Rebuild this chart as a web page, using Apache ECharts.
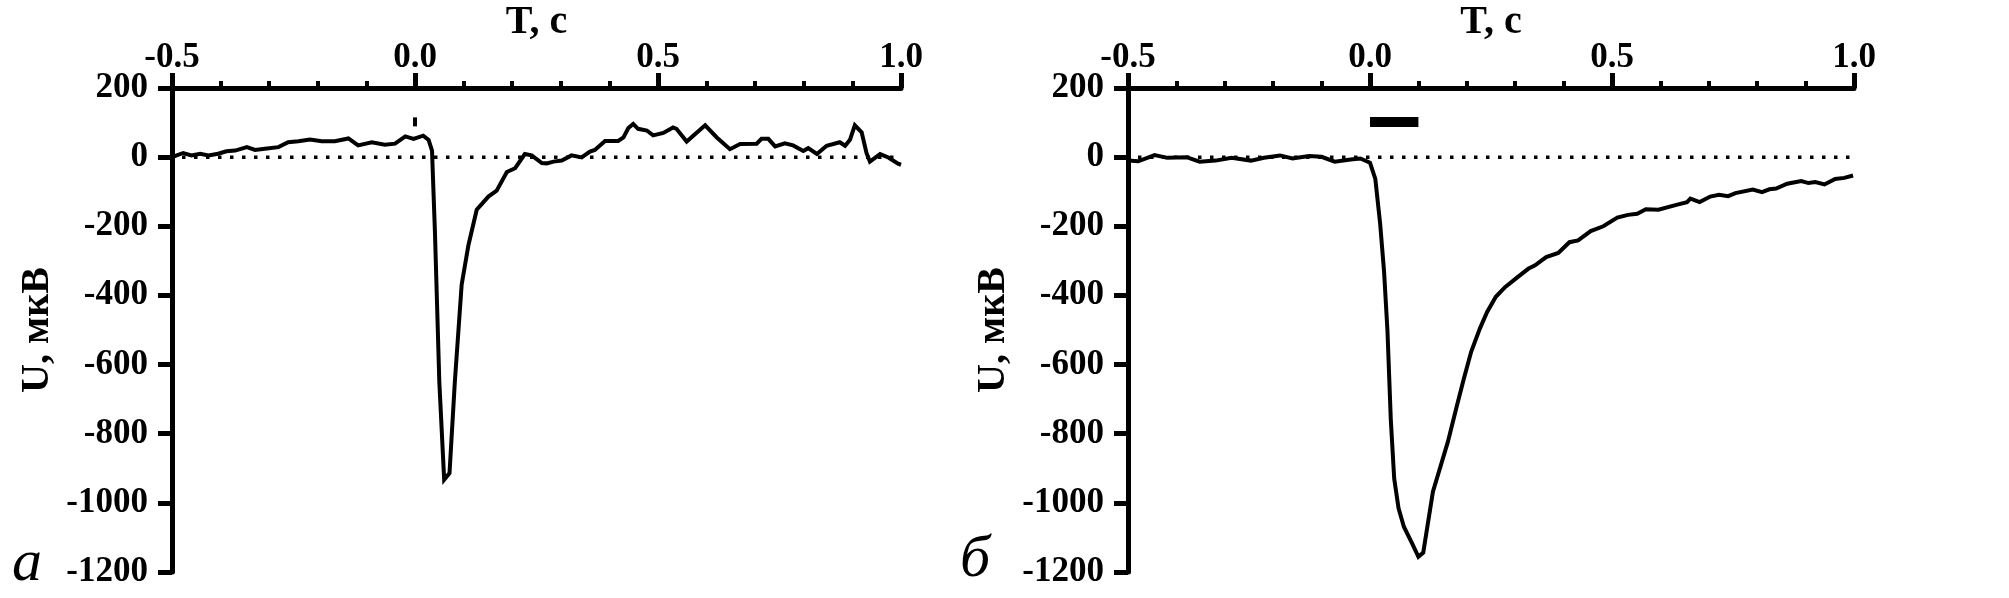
<!DOCTYPE html>
<html><head><meta charset="utf-8">
<script src="https://cdn.jsdelivr.net/npm/echarts@6/dist/echarts.min.js"></script>
<style>html,body{margin:0;padding:0;background:#fff}#c{width:2009px;height:598px}</style>
</head><body><div id="c"></div>
<script>
// Panel а: time (s) and voltage (µV)
const timeA = [-0.5,-0.477,-0.460,-0.442,-0.425,-0.405,-0.388,-0.370,-0.346,-0.329,-0.309,-0.281,-0.261,-0.240,-0.216,-0.192,-0.165,-0.137,-0.117,-0.089,-0.062,-0.041,-0.020,-0.003,0.017,0.028,0.035,0.041,0.050,0.060,0.071,0.082,0.096,0.110,0.127,0.151,0.168,0.189,0.206,0.226,0.240,0.261,0.271,0.285,0.302,0.322,0.343,0.360,0.370,0.391,0.418,0.429,0.439,0.449,0.459,0.477,0.490,0.511,0.531,0.538,0.559,0.597,0.621,0.648,0.669,0.703,0.713,0.727,0.741,0.761,0.778,0.799,0.809,0.827,0.847,0.874,0.885,0.895,0.905,0.919,0.929,0.936,0.957,0.974,0.994,1.0];
const voltA = [0,12,5,10,5,10,17,19,29,21,24,29,43,46,51,46,46,54,34,43,36,39,60,53,62,50,19,-215,-649,-933,-914,-649,-369,-254,-152,-114,-97,-43,-32,9,5,-17,-18,-13,-10,5,-1,16,21,47,47,57,84,96,82,77,63,70,86,82,45,92,57,23,38,39,53,53,31,40,34,18,26,9,33,43,33,50,92,72,12,-13,9,-1,-19,-22];
// Panel б
const timeB = [-0.5,-0.479,-0.445,-0.419,-0.379,-0.352,-0.319,-0.286,-0.246,-0.219,-0.186,-0.160,-0.126,-0.100,-0.073,-0.040,-0.020,0.000,0.011,0.021,0.029,0.036,0.043,0.050,0.059,0.070,0.087,0.100,0.110,0.130,0.161,0.179,0.194,0.209,0.227,0.242,0.260,0.279,0.305,0.327,0.341,0.364,0.389,0.412,0.430,0.456,0.482,0.511,0.533,0.552,0.570,0.596,0.633,0.655,0.662,0.681,0.703,0.721,0.740,0.755,0.791,0.810,0.825,0.839,0.862,0.891,0.906,0.920,0.939,0.961,0.980,0.998];
const voltB = [-10,-12,6,-2,0,-13,-10,-2,-10,-2,5,-4,3,1,-13,-7,-4,-16,-63,-193,-330,-500,-760,-930,-1016,-1069,-1117,-1156,-1144,-968,-823,-722,-640,-563,-496,-448,-404,-376,-347,-323,-313,-289,-277,-246,-241,-214,-200,-175,-167,-164,-151,-152,-138,-130,-120,-130,-114,-109,-113,-104,-94,-101,-93,-91,-77,-69,-75,-72,-79,-63,-60,-53];
// stimulus markers
const stimAx = [0, 0], stimAy = [89, 115];
const stimBx = [0, 0.1], stimBy = [102, 102];
// axes
const xMin = -0.5, xMax = 1.0, xStep = 0.5;
const yMin = -1200, yMax = 200, yStep = 200;
const xName = 'T, c';
const yName = 'U, мкВ';
const panelLabels = ['а', 'б'];

const FONT = 'Liberation Serif';
const pairs = (xs, ys) => xs.map((x, i) => [x, ys[i]]);
const grids = [
  {left: 172, top: 88, width: 729, height: 484, outerBoundsMode: 'none', containLabel: false},
  {left: 1128, top: 88, width: 726, height: 484, outerBoundsMode: 'none', containLabel: false}
];
function xAx(gi) {
  return {
    gridIndex: gi, type: 'value', position: 'top', min: xMin, max: xMax, interval: xStep,
    axisLine: {onZero: false, lineStyle: {color: '#000', width: 5}},
    axisTick: {length: 15, lineStyle: {color: '#000', width: 5}},
    minorTick: {show: true, splitNumber: 5, length: 7, lineStyle: {color: '#000', width: 4}},
    splitLine: {show: false}, minorSplitLine: {show: false},
    axisLabel: {margin: 13, color: '#000', fontFamily: FONT, fontWeight: 'bold', fontSize: 35,
      formatter: v => v.toFixed(1)},
    name: xName, nameLocation: 'middle', nameGap: 45, nameMoveOverlap: false,
    nameTextStyle: {color: '#000', fontFamily: FONT, fontWeight: 'bold', fontSize: 40}
  };
}
function yAx(gi) {
  return {
    gridIndex: gi, type: 'value', min: yMin, max: yMax, interval: yStep,
    axisLine: {show: true, onZero: false, lineStyle: {color: '#000', width: 5}},
    axisTick: {show: true, length: 14, lineStyle: {color: '#000', width: 5}},
    splitLine: {show: false},
    axisLabel: {margin: 24, color: '#000', fontFamily: FONT, fontWeight: 'bold', fontSize: 35,
      formatter: v => String(v)},
    name: yName, nameLocation: 'middle', nameGap: 114, nameMoveOverlap: false,
    nameTextStyle: {color: '#000', fontFamily: FONT, fontWeight: 'bold', fontSize: 40}
  };
}
function zeroLine(gi) {
  return {type: 'line', xAxisIndex: gi, yAxisIndex: gi, data: [[xMin, 0], [xMax, 0]],
    symbol: 'none', silent: true,
    lineStyle: {color: '#000', width: 3.5, type: [3.5, 8.5], dashOffset: -10}};
}
function trace(gi, data) {
  return {type: 'line', xAxisIndex: gi, yAxisIndex: gi, data: data, symbol: 'none', silent: true,
    lineStyle: {color: '#000', width: 4, join: 'miter'}};
}
function marker(gi, data, w) {
  return {type: 'line', xAxisIndex: gi, yAxisIndex: gi, data: data, symbol: 'none', silent: true,
    lineStyle: {color: '#000', width: w, cap: 'butt'}};
}
const chart = echarts.init(document.getElementById('c'), null, {renderer: 'canvas'});
chart.setOption({
  animation: false,
  backgroundColor: '#fff',
  grid: grids,
  xAxis: [xAx(0), xAx(1)],
  yAxis: [yAx(0), yAx(1)],
  series: [
    zeroLine(0), zeroLine(1),
    trace(0, pairs(timeA, voltA)),
    trace(1, pairs(timeB, voltB)),
    marker(0, pairs(stimAx, stimAy), 4),
    marker(1, pairs(stimBx, stimBy), 10)
  ],
  graphic: [
    {type: 'text', left: 12, top: 534, style: {text: panelLabels[0], font: 'italic 60px "Liberation Serif"', fill: '#000'}},
    {type: 'text', left: 960, top: 530, style: {text: panelLabels[1], font: 'italic 60px "Liberation Serif"', fill: '#000'}}
  ]
});
</script>
</body></html>
